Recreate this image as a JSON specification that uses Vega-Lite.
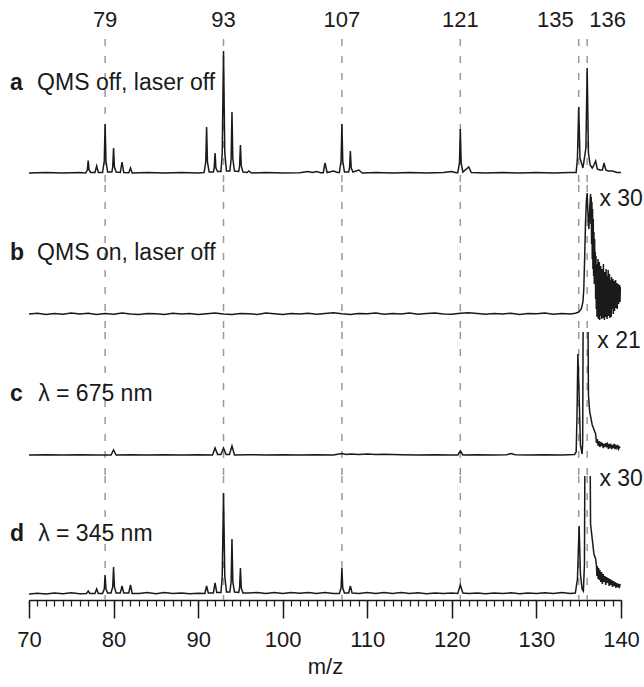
{
"$schema":"https://vega.github.io/schema/vega-lite/v6.json",
"padding":{"left":10,"top":1,"right":0,"bottom":0},
"config":{"view":{"stroke":null},"font":"Liberation Sans","text":{"font":"Liberation Sans","color":"#1a1a1a"}},
"spacing":0,
"bounds":"flush",
"resolve":{"scale":{"x":"independent","y":"independent"}},
"datasets":{
"peaks":[{"mz":79},{"mz":93},{"mz":107},{"mz":121},{"mz":135},{"mz":136}],
"lab":[
{"p":"a","w":"b","mz":67.76,"i":90,"t":"a"},{"p":"a","w":"n","mz":70.96,"i":90,"t":"QMS off, laser off"},
{"p":"b","w":"b","mz":67.76,"i":61,"t":"b"},{"p":"b","w":"n","mz":70.96,"i":61,"t":"QMS on, laser off"},{"p":"b","w":"n","mz":137.45,"i":115,"t":"x 30"},
{"p":"c","w":"b","mz":67.76,"i":61,"t":"c"},{"p":"c","w":"n","mz":71.08,"i":61,"t":"λ = 675 nm"},{"p":"c","w":"n","mz":137.2,"i":114,"t":"x 21"},
{"p":"d","w":"b","mz":67.76,"i":60,"t":"d"},{"p":"d","w":"n","mz":71.08,"i":60,"t":"λ = 345 nm"},{"p":"d","w":"n","mz":137.45,"i":115,"t":"x 30"}
],
"spec":[
{"p":"a","mz":70,"i":0},{"p":"a","mz":72,"i":0.5},{"p":"a","mz":74,"i":0},{"p":"a","mz":76,"i":0.5},{"p":"a","mz":76.7,"i":0},{"p":"a","mz":76.9,"i":3},{"p":"a","mz":77,"i":12.5},{"p":"a","mz":77.1,"i":3},{"p":"a","mz":77.3,"i":0.5},{"p":"a","mz":77.8,"i":0.5},{"p":"a","mz":78,"i":7},{"p":"a","mz":78.2,"i":0.5},{"p":"a","mz":78.7,"i":0.5},{"p":"a","mz":78.9,"i":12},{"p":"a","mz":79,"i":49},{"p":"a","mz":79.1,"i":12},{"p":"a","mz":79.3,"i":1},{"p":"a","mz":79.8,"i":1},{"p":"a","mz":79.9,"i":6},{"p":"a","mz":80,"i":25},{"p":"a","mz":80.1,"i":6},{"p":"a","mz":80.3,"i":1},{"p":"a","mz":80.8,"i":0.5},{"p":"a","mz":81,"i":11},{"p":"a","mz":81.2,"i":0.5},{"p":"a","mz":81.8,"i":0.3},{"p":"a","mz":82,"i":5},{"p":"a","mz":82.2,"i":0},{"p":"a","mz":84,"i":0.5},{"p":"a","mz":86,"i":0},{"p":"a","mz":88,"i":0.5},{"p":"a","mz":90,"i":0},{"p":"a","mz":90.7,"i":0.5},{"p":"a","mz":90.9,"i":11},{"p":"a","mz":91,"i":46},{"p":"a","mz":91.1,"i":11},{"p":"a","mz":91.3,"i":1},{"p":"a","mz":91.8,"i":1},{"p":"a","mz":91.9,"i":5},{"p":"a","mz":92,"i":20},{"p":"a","mz":92.1,"i":5},{"p":"a","mz":92.3,"i":1.5},{"p":"a","mz":92.7,"i":1.5},{"p":"a","mz":92.85,"i":20},{"p":"a","mz":93,"i":122},{"p":"a","mz":93.15,"i":20},{"p":"a","mz":93.35,"i":2},{"p":"a","mz":93.75,"i":2},{"p":"a","mz":93.9,"i":14},{"p":"a","mz":94,"i":61},{"p":"a","mz":94.1,"i":14},{"p":"a","mz":94.3,"i":2},{"p":"a","mz":94.8,"i":1.5},{"p":"a","mz":94.9,"i":7},{"p":"a","mz":95,"i":28},{"p":"a","mz":95.1,"i":7},{"p":"a","mz":95.3,"i":1},{"p":"a","mz":95.8,"i":0.5},{"p":"a","mz":96,"i":2},{"p":"a","mz":96.3,"i":0},{"p":"a","mz":98,"i":0.5},{"p":"a","mz":100,"i":0},{"p":"a","mz":102,"i":0.3},{"p":"a","mz":103,"i":1.5},{"p":"a","mz":103.5,"i":0.5},{"p":"a","mz":104,"i":1.5},{"p":"a","mz":104.5,"i":0.3},{"p":"a","mz":104.8,"i":0.3},{"p":"a","mz":105,"i":10},{"p":"a","mz":105.25,"i":0.5},{"p":"a","mz":106,"i":2},{"p":"a","mz":106.5,"i":0.5},{"p":"a","mz":106.7,"i":0.5},{"p":"a","mz":106.9,"i":12},{"p":"a","mz":107,"i":49},{"p":"a","mz":107.1,"i":12},{"p":"a","mz":107.3,"i":1},{"p":"a","mz":107.8,"i":1},{"p":"a","mz":107.9,"i":5},{"p":"a","mz":108,"i":22},{"p":"a","mz":108.1,"i":5},{"p":"a","mz":108.3,"i":1},{"p":"a","mz":109,"i":3},{"p":"a","mz":109.4,"i":0},{"p":"a","mz":111,"i":0.5},{"p":"a","mz":113,"i":0},{"p":"a","mz":115,"i":0.5},{"p":"a","mz":117,"i":0},{"p":"a","mz":119,"i":0.5},{"p":"a","mz":120,"i":1.5},{"p":"a","mz":120.5,"i":0.3},{"p":"a","mz":120.7,"i":0.3},{"p":"a","mz":120.9,"i":10},{"p":"a","mz":121,"i":44},{"p":"a","mz":121.1,"i":10},{"p":"a","mz":121.3,"i":1},{"p":"a","mz":122,"i":6},{"p":"a","mz":122.3,"i":0.5},{"p":"a","mz":124,"i":0},{"p":"a","mz":126,"i":0.5},{"p":"a","mz":128,"i":0},{"p":"a","mz":130,"i":0.5},{"p":"a","mz":132,"i":0},{"p":"a","mz":134,"i":0.5},{"p":"a","mz":134.7,"i":0.5},{"p":"a","mz":134.85,"i":15},{"p":"a","mz":135,"i":66},{"p":"a","mz":135.15,"i":15},{"p":"a","mz":135.5,"i":5},{"p":"a","mz":135.85,"i":25},{"p":"a","mz":136,"i":105},{"p":"a","mz":136.15,"i":20},{"p":"a","mz":136.35,"i":8},{"p":"a","mz":136.6,"i":5},{"p":"a","mz":136.8,"i":8},{"p":"a","mz":137,"i":12},{"p":"a","mz":137.2,"i":4},{"p":"a","mz":137.5,"i":3},{"p":"a","mz":137.8,"i":3},{"p":"a","mz":138,"i":10},{"p":"a","mz":138.2,"i":3},{"p":"a","mz":138.5,"i":2},{"p":"a","mz":139,"i":2},{"p":"a","mz":139.5,"i":0.5},{"p":"a","mz":140,"i":0.5},
{"p":"b","mz":70,"i":0},{"p":"b","mz":71,"i":0.8},{"p":"b","mz":72,"i":-0.5},{"p":"b","mz":73,"i":0.6},{"p":"b","mz":74,"i":-0.3},{"p":"b","mz":75,"i":1},{"p":"b","mz":76,"i":0},{"p":"b","mz":77,"i":0.7},{"p":"b","mz":78,"i":-0.6},{"p":"b","mz":79,"i":0.5},{"p":"b","mz":80,"i":-0.2},{"p":"b","mz":81,"i":0.9},{"p":"b","mz":82,"i":0},{"p":"b","mz":83,"i":-0.5},{"p":"b","mz":84,"i":0.6},{"p":"b","mz":85,"i":0.2},{"p":"b","mz":86,"i":-0.6},{"p":"b","mz":87,"i":0.8},{"p":"b","mz":88,"i":0},{"p":"b","mz":89,"i":0.5},{"p":"b","mz":90,"i":-0.4},{"p":"b","mz":91,"i":0.3},{"p":"b","mz":92,"i":1},{"p":"b","mz":93,"i":0},{"p":"b","mz":94,"i":-0.5},{"p":"b","mz":95,"i":0.6},{"p":"b","mz":96,"i":0.2},{"p":"b","mz":97,"i":-0.4},{"p":"b","mz":98,"i":1},{"p":"b","mz":99,"i":0.3},{"p":"b","mz":100,"i":-0.5},{"p":"b","mz":101,"i":0.6},{"p":"b","mz":102,"i":0.1},{"p":"b","mz":103,"i":0.8},{"p":"b","mz":104,"i":-0.2},{"p":"b","mz":105,"i":0.6},{"p":"b","mz":106,"i":1.2},{"p":"b","mz":107,"i":0.3},{"p":"b","mz":108,"i":-0.4},{"p":"b","mz":109,"i":0.6},{"p":"b","mz":110,"i":0.2},{"p":"b","mz":111,"i":1},{"p":"b","mz":112,"i":-0.3},{"p":"b","mz":113,"i":0.5},{"p":"b","mz":114,"i":0},{"p":"b","mz":115,"i":0.9},{"p":"b","mz":116,"i":-0.2},{"p":"b","mz":117,"i":0.4},{"p":"b","mz":118,"i":1},{"p":"b","mz":119,"i":0},{"p":"b","mz":120,"i":-0.3},{"p":"b","mz":121,"i":0.7},{"p":"b","mz":122,"i":1.2},{"p":"b","mz":123,"i":0.4},{"p":"b","mz":124,"i":-0.3},{"p":"b","mz":125,"i":0.6},{"p":"b","mz":126,"i":0},{"p":"b","mz":127,"i":0.8},{"p":"b","mz":128,"i":-0.4},{"p":"b","mz":129,"i":0.5},{"p":"b","mz":130,"i":0.2},{"p":"b","mz":131,"i":0.9},{"p":"b","mz":132,"i":-0.2},{"p":"b","mz":133,"i":0.4},{"p":"b","mz":134,"i":0.1},{"p":"b","mz":134.6,"i":0.8},{"p":"b","mz":135,"i":2},{"p":"b","mz":135.3,"i":5},{"p":"b","mz":135.5,"i":12},{"p":"b","mz":135.6,"i":25},{"p":"b","mz":135.7,"i":55},{"p":"b","mz":135.8,"i":90},{"p":"b","mz":135.9,"i":112},{"p":"b","mz":136,"i":121},{"p":"b","mz":136.1,"i":98},{"p":"b","mz":136.2,"i":85},{"p":"b","mz":136.3,"i":105},
{"p":"b","mz":136.4,"i":120},{"p":"b","mz":136.44,"i":90},{"p":"b","mz":136.48,"i":117},{"p":"b","mz":136.52,"i":70},{"p":"b","mz":136.56,"i":112},{"p":"b","mz":136.6,"i":55},{"p":"b","mz":136.64,"i":105},{"p":"b","mz":136.68,"i":45},{"p":"b","mz":136.72,"i":95},{"p":"b","mz":136.76,"i":38},{"p":"b","mz":136.8,"i":82},{"p":"b","mz":136.84,"i":30},{"p":"b","mz":136.88,"i":75},{"p":"b","mz":136.92,"i":35},{"p":"b","mz":136.96,"i":62},{"p":"b","mz":137,"i":15},{"p":"b","mz":137.04,"i":58},{"p":"b","mz":137.08,"i":5},{"p":"b","mz":137.12,"i":50},{"p":"b","mz":137.16,"i":-3},{"p":"b","mz":137.2,"i":45},{"p":"b","mz":137.24,"i":10},{"p":"b","mz":137.28,"i":55},{"p":"b","mz":137.32,"i":-5},{"p":"b","mz":137.36,"i":40},{"p":"b","mz":137.4,"i":2},{"p":"b","mz":137.44,"i":52},{"p":"b","mz":137.48,"i":-6},{"p":"b","mz":137.52,"i":35},{"p":"b","mz":137.56,"i":8},{"p":"b","mz":137.6,"i":48},{"p":"b","mz":137.64,"i":-2},{"p":"b","mz":137.68,"i":30},{"p":"b","mz":137.72,"i":-5},{"p":"b","mz":137.76,"i":45},{"p":"b","mz":137.8,"i":5},{"p":"b","mz":137.84,"i":38},{"p":"b","mz":137.88,"i":-4},{"p":"b","mz":137.92,"i":50},{"p":"b","mz":137.96,"i":0},{"p":"b","mz":138,"i":33},{"p":"b","mz":138.04,"i":-6},{"p":"b","mz":138.08,"i":42},{"p":"b","mz":138.12,"i":6},{"p":"b","mz":138.16,"i":36},{"p":"b","mz":138.2,"i":-3},{"p":"b","mz":138.24,"i":45},{"p":"b","mz":138.28,"i":2},{"p":"b","mz":138.32,"i":30},{"p":"b","mz":138.36,"i":-5},{"p":"b","mz":138.4,"i":38},{"p":"b","mz":138.44,"i":10},{"p":"b","mz":138.48,"i":44},{"p":"b","mz":138.52,"i":-2},{"p":"b","mz":138.56,"i":28},{"p":"b","mz":138.6,"i":4},{"p":"b","mz":138.64,"i":40},{"p":"b","mz":138.68,"i":-4},{"p":"b","mz":138.72,"i":34},{"p":"b","mz":138.76,"i":8},{"p":"b","mz":138.8,"i":26},{"p":"b","mz":138.84,"i":-3},{"p":"b","mz":138.88,"i":37},{"p":"b","mz":138.92,"i":5},{"p":"b","mz":138.96,"i":30},{"p":"b","mz":139,"i":12},{"p":"b","mz":139.04,"i":35},{"p":"b","mz":139.08,"i":0},{"p":"b","mz":139.12,"i":28},{"p":"b","mz":139.16,"i":9},{"p":"b","mz":139.2,"i":33},{"p":"b","mz":139.24,"i":3},{"p":"b","mz":139.28,"i":25},{"p":"b","mz":139.32,"i":12},{"p":"b","mz":139.36,"i":34},{"p":"b","mz":139.4,"i":6},{"p":"b","mz":139.44,"i":27},{"p":"b","mz":139.48,"i":14},{"p":"b","mz":139.52,"i":31},{"p":"b","mz":139.56,"i":5},{"p":"b","mz":139.6,"i":24},{"p":"b","mz":139.64,"i":15},{"p":"b","mz":139.68,"i":30},{"p":"b","mz":139.72,"i":10},{"p":"b","mz":139.76,"i":26},{"p":"b","mz":139.8,"i":16},{"p":"b","mz":139.84,"i":29},{"p":"b","mz":139.88,"i":12},{"p":"b","mz":139.92,"i":27},{"p":"b","mz":139.96,"i":20},
{"p":"c","mz":70,"i":0},{"p":"c","mz":72,"i":0.3},{"p":"c","mz":74,"i":0},{"p":"c","mz":76,"i":0.3},{"p":"c","mz":78,"i":0},{"p":"c","mz":79.7,"i":0},{"p":"c","mz":80,"i":5},{"p":"c","mz":80.3,"i":0},{"p":"c","mz":82,"i":0.3},{"p":"c","mz":84,"i":0},{"p":"c","mz":86,"i":0.3},{"p":"c","mz":88,"i":0},{"p":"c","mz":90,"i":0.3},{"p":"c","mz":91.7,"i":0},{"p":"c","mz":92,"i":7},{"p":"c","mz":92.3,"i":0.5},{"p":"c","mz":92.7,"i":0.5},{"p":"c","mz":93,"i":7},{"p":"c","mz":93.3,"i":0.5},{"p":"c","mz":93.7,"i":0.5},{"p":"c","mz":94,"i":9},{"p":"c","mz":94.3,"i":0},{"p":"c","mz":96,"i":0.3},{"p":"c","mz":98,"i":0},{"p":"c","mz":100,"i":0.3},{"p":"c","mz":102,"i":0},{"p":"c","mz":104,"i":0.3},{"p":"c","mz":106,"i":0},{"p":"c","mz":107,"i":1.5},{"p":"c","mz":107.5,"i":0.5},{"p":"c","mz":108,"i":1},{"p":"c","mz":109,"i":0.5},{"p":"c","mz":110,"i":1},{"p":"c","mz":111,"i":0.5},{"p":"c","mz":112,"i":0.8},{"p":"c","mz":114,"i":0.3},{"p":"c","mz":116,"i":0},{"p":"c","mz":118,"i":0.3},{"p":"c","mz":120,"i":0},{"p":"c","mz":120.7,"i":0},{"p":"c","mz":121,"i":4},{"p":"c","mz":121.3,"i":0},{"p":"c","mz":123,"i":0.3},{"p":"c","mz":125,"i":0},{"p":"c","mz":126.5,"i":0.3},{"p":"c","mz":127,"i":1.5},{"p":"c","mz":127.5,"i":0.3},{"p":"c","mz":129,"i":0},{"p":"c","mz":131,"i":0.3},{"p":"c","mz":133,"i":0},{"p":"c","mz":134.5,"i":0.5},{"p":"c","mz":134.7,"i":3},{"p":"c","mz":134.8,"i":40},{"p":"c","mz":134.9,"i":101},{"p":"c","mz":135.05,"i":60},{"p":"c","mz":135.2,"i":10},{"p":"c","mz":135.4,"i":1},{"p":"c","mz":135.47,"i":12},{"p":"c","mz":135.55,"i":200},{"p":"c","mz":136.05,"i":200},{"p":"c","mz":136.15,"i":60},{"p":"c","mz":136.3,"i":43},{"p":"c","mz":136.6,"i":30},{"p":"c","mz":137,"i":21},{"p":"c","mz":137.1,"i":12},{"p":"c","mz":137.2,"i":16},{"p":"c","mz":137.3,"i":9},{"p":"c","mz":137.4,"i":14},{"p":"c","mz":137.5,"i":8},{"p":"c","mz":137.6,"i":13},{"p":"c","mz":137.7,"i":9},{"p":"c","mz":137.8,"i":12},{"p":"c","mz":137.9,"i":7},{"p":"c","mz":138,"i":11},{"p":"c","mz":138.1,"i":8},{"p":"c","mz":138.2,"i":12},{"p":"c","mz":138.3,"i":9},{"p":"c","mz":138.4,"i":11},{"p":"c","mz":138.5,"i":6},{"p":"c","mz":138.6,"i":11},{"p":"c","mz":138.7,"i":8},{"p":"c","mz":138.8,"i":10},{"p":"c","mz":138.9,"i":6},{"p":"c","mz":139,"i":10},{"p":"c","mz":139.1,"i":7},{"p":"c","mz":139.2,"i":11},{"p":"c","mz":139.3,"i":6},{"p":"c","mz":139.4,"i":9},{"p":"c","mz":139.5,"i":7},{"p":"c","mz":139.6,"i":10},{"p":"c","mz":139.7,"i":6},{"p":"c","mz":139.8,"i":8},{"p":"c","mz":139.9,"i":7},
{"p":"d","mz":70,"i":0},{"p":"d","mz":71,"i":0.8},{"p":"d","mz":72,"i":0},{"p":"d","mz":73,"i":1},{"p":"d","mz":74,"i":0.3},{"p":"d","mz":75,"i":1.2},{"p":"d","mz":76,"i":0.3},{"p":"d","mz":76.8,"i":0.5},{"p":"d","mz":77,"i":3},{"p":"d","mz":77.2,"i":0.5},{"p":"d","mz":77.8,"i":0.5},{"p":"d","mz":78,"i":5},{"p":"d","mz":78.2,"i":0.5},{"p":"d","mz":78.7,"i":0.5},{"p":"d","mz":78.9,"i":5},{"p":"d","mz":79,"i":19},{"p":"d","mz":79.1,"i":5},{"p":"d","mz":79.3,"i":1},{"p":"d","mz":79.7,"i":1},{"p":"d","mz":79.9,"i":7},{"p":"d","mz":80,"i":27},{"p":"d","mz":80.1,"i":7},{"p":"d","mz":80.3,"i":1},{"p":"d","mz":80.8,"i":1},{"p":"d","mz":81,"i":8},{"p":"d","mz":81.2,"i":1},{"p":"d","mz":81.8,"i":1},{"p":"d","mz":82,"i":9},{"p":"d","mz":82.2,"i":0.5},{"p":"d","mz":83,"i":0.5},{"p":"d","mz":84,"i":1.5},{"p":"d","mz":85,"i":0.3},{"p":"d","mz":86,"i":1.5},{"p":"d","mz":87,"i":0.5},{"p":"d","mz":88,"i":1},{"p":"d","mz":89,"i":0.3},{"p":"d","mz":90,"i":0.8},{"p":"d","mz":90.8,"i":0.5},{"p":"d","mz":91,"i":8},{"p":"d","mz":91.2,"i":1},{"p":"d","mz":91.8,"i":1},{"p":"d","mz":92,"i":11},{"p":"d","mz":92.2,"i":1.5},{"p":"d","mz":92.7,"i":1.5},{"p":"d","mz":92.85,"i":18},{"p":"d","mz":93,"i":101},{"p":"d","mz":93.15,"i":18},{"p":"d","mz":93.35,"i":2},{"p":"d","mz":93.75,"i":2},{"p":"d","mz":93.9,"i":12},{"p":"d","mz":94,"i":55},{"p":"d","mz":94.1,"i":12},{"p":"d","mz":94.3,"i":2},{"p":"d","mz":94.8,"i":1.5},{"p":"d","mz":94.9,"i":6},{"p":"d","mz":95,"i":26},{"p":"d","mz":95.1,"i":6},{"p":"d","mz":95.3,"i":1},{"p":"d","mz":96,"i":1},{"p":"d","mz":97,"i":1.5},{"p":"d","mz":98,"i":0.5},{"p":"d","mz":99,"i":1.5},{"p":"d","mz":100,"i":0.5},{"p":"d","mz":101,"i":1.5},{"p":"d","mz":102,"i":0.8},{"p":"d","mz":103,"i":1.5},{"p":"d","mz":104,"i":0.5},{"p":"d","mz":105,"i":1.5},{"p":"d","mz":106,"i":0.5},{"p":"d","mz":106.7,"i":0.5},{"p":"d","mz":106.9,"i":6},{"p":"d","mz":107,"i":26},{"p":"d","mz":107.1,"i":6},{"p":"d","mz":107.3,"i":1},{"p":"d","mz":107.8,"i":1},{"p":"d","mz":108,"i":8},{"p":"d","mz":108.2,"i":1},{"p":"d","mz":109,"i":0.5},{"p":"d","mz":110,"i":1.5},{"p":"d","mz":111,"i":0.5},{"p":"d","mz":112,"i":1.5},{"p":"d","mz":113,"i":0.5},{"p":"d","mz":114,"i":1.5},{"p":"d","mz":115,"i":0.5},{"p":"d","mz":116,"i":1.2},{"p":"d","mz":117,"i":0.3},{"p":"d","mz":118,"i":1},{"p":"d","mz":119,"i":0.5},{"p":"d","mz":120,"i":1},{"p":"d","mz":120.7,"i":0.5},{"p":"d","mz":121,"i":9},{"p":"d","mz":121.3,"i":1},{"p":"d","mz":122,"i":0.5},{"p":"d","mz":123,"i":1},{"p":"d","mz":124,"i":0.3},{"p":"d","mz":125,"i":1},{"p":"d","mz":126,"i":0.5},{"p":"d","mz":127,"i":1.2},{"p":"d","mz":128,"i":0.3},{"p":"d","mz":129,"i":1},{"p":"d","mz":130,"i":0.5},{"p":"d","mz":131,"i":1.2},{"p":"d","mz":132,"i":0.5},{"p":"d","mz":133,"i":1.5},{"p":"d","mz":134,"i":0.5},{"p":"d","mz":134.6,"i":1},{"p":"d","mz":134.85,"i":15},{"p":"d","mz":135.05,"i":68},{"p":"d","mz":135.2,"i":20},{"p":"d","mz":135.4,"i":5},{"p":"d","mz":135.55,"i":3},{"p":"d","mz":135.68,"i":30},{"p":"d","mz":135.76,"i":200},{"p":"d","mz":136.31,"i":200},{"p":"d","mz":136.4,"i":70},{"p":"d","mz":136.6,"i":55},{"p":"d","mz":136.8,"i":40},{"p":"d","mz":137,"i":35},{"p":"d","mz":137.1,"i":28},{"p":"d","mz":137.15,"i":18},{"p":"d","mz":137.2,"i":28},{"p":"d","mz":137.3,"i":15},{"p":"d","mz":137.35,"i":26},{"p":"d","mz":137.45,"i":14},{"p":"d","mz":137.5,"i":24},{"p":"d","mz":137.6,"i":12},{"p":"d","mz":137.7,"i":22},{"p":"d","mz":137.8,"i":10},{"p":"d","mz":137.9,"i":20},{"p":"d","mz":138,"i":12},{"p":"d","mz":138.1,"i":18},{"p":"d","mz":138.2,"i":9},{"p":"d","mz":138.3,"i":17},{"p":"d","mz":138.4,"i":11},{"p":"d","mz":138.5,"i":16},{"p":"d","mz":138.6,"i":8},{"p":"d","mz":138.7,"i":15},{"p":"d","mz":138.8,"i":9},{"p":"d","mz":138.9,"i":14},{"p":"d","mz":139,"i":7},{"p":"d","mz":139.1,"i":13},{"p":"d","mz":139.2,"i":8},{"p":"d","mz":139.3,"i":12},{"p":"d","mz":139.4,"i":6},{"p":"d","mz":139.5,"i":11},{"p":"d","mz":139.6,"i":7},{"p":"d","mz":139.7,"i":10},{"p":"d","mz":139.8,"i":6},{"p":"d","mz":139.9,"i":10}
]},
"vconcat":[
{"width":592,"height":38,"data":{"name":"peaks"},
 "layer":[
  {"transform":[{"filter":"datum.mz < 135"}],"mark":{"type":"text","fontSize":22,"align":"center","baseline":"middle"},
   "encoding":{"x":{"field":"mz","type":"quantitative","scale":{"domain":[70,140],"nice":false,"zero":false},"axis":null},"text":{"field":"mz","type":"quantitative","format":"d"}}},
  {"transform":[{"filter":"datum.mz == 135"}],"mark":{"type":"text","fontSize":22,"align":"right","baseline":"middle","dx":-5},
   "encoding":{"x":{"field":"mz","type":"quantitative","scale":{"domain":[70,140],"nice":false,"zero":false},"axis":null},"text":{"field":"mz","type":"quantitative","format":"d"}}},
  {"transform":[{"filter":"datum.mz == 136"}],"mark":{"type":"text","fontSize":22,"align":"left","baseline":"middle","dx":2},
   "encoding":{"x":{"field":"mz","type":"quantitative","scale":{"domain":[70,140],"nice":false,"zero":false},"axis":null},"text":{"field":"mz","type":"quantitative","format":"d"}}}
 ]},
{"width":592,"height":146,
 "layer":[
  {"data":{"name":"peaks"},"mark":{"type":"rule","color":"#999999","strokeWidth":1.5,"strokeDash":[7,10]},
   "encoding":{"x":{"field":"mz","type":"quantitative","scale":{"domain":[70,140],"nice":false,"zero":false},"axis":null}}},
  {"data":{"name":"spec"},"transform":[{"filter":"datum.p == 'a'"}],"mark":{"type":"line","color":"#1a1a1a","strokeWidth":1.5,"clip":true},
   "encoding":{"x":{"field":"mz","type":"quantitative","scale":{"domain":[70,140],"nice":false,"zero":false},"axis":null},"y":{"field":"i","type":"quantitative","scale":{"domain":[-12,134],"nice":false,"zero":false},"axis":null}}},
  {"data":{"name":"lab"},"transform":[{"filter":"datum.p == 'a' && datum.w == 'b'"}],"mark":{"type":"text","fontSize":23,"fontWeight":"bold","align":"left","baseline":"middle"},
   "encoding":{"x":{"field":"mz","type":"quantitative","scale":{"domain":[70,140],"nice":false,"zero":false},"axis":null},"y":{"field":"i","type":"quantitative","scale":{"domain":[-12,134],"nice":false,"zero":false},"axis":null},"text":{"field":"t"}}},
  {"data":{"name":"lab"},"transform":[{"filter":"datum.p == 'a' && datum.w == 'n'"}],"mark":{"type":"text","fontSize":23,"align":"left","baseline":"middle"},
   "encoding":{"x":{"field":"mz","type":"quantitative","scale":{"domain":[70,140],"nice":false,"zero":false},"axis":null},"y":{"field":"i","type":"quantitative","scale":{"domain":[-12,134],"nice":false,"zero":false},"axis":null},"text":{"field":"t"}}}
 ]},
{"width":592,"height":147,
 "layer":[
  {"data":{"name":"peaks"},"mark":{"type":"rule","color":"#999999","strokeWidth":1.5,"strokeDash":[7,10]},
   "encoding":{"x":{"field":"mz","type":"quantitative","scale":{"domain":[70,140],"nice":false,"zero":false},"axis":null}}},
  {"data":{"name":"spec"},"transform":[{"filter":"datum.p == 'b'"}],"mark":{"type":"line","color":"#1a1a1a","strokeWidth":1.5,"clip":true},
   "encoding":{"x":{"field":"mz","type":"quantitative","scale":{"domain":[70,140],"nice":false,"zero":false},"axis":null},"y":{"field":"i","type":"quantitative","scale":{"domain":[-18,129],"nice":false,"zero":false},"axis":null}}},
  {"data":{"name":"lab"},"transform":[{"filter":"datum.p == 'b' && datum.w == 'b'"}],"mark":{"type":"text","fontSize":23,"fontWeight":"bold","align":"left","baseline":"middle"},
   "encoding":{"x":{"field":"mz","type":"quantitative","scale":{"domain":[70,140],"nice":false,"zero":false},"axis":null},"y":{"field":"i","type":"quantitative","scale":{"domain":[-18,129],"nice":false,"zero":false},"axis":null},"text":{"field":"t"}}},
  {"data":{"name":"lab"},"transform":[{"filter":"datum.p == 'b' && datum.w == 'n'"}],"mark":{"type":"text","fontSize":23,"align":"left","baseline":"middle"},
   "encoding":{"x":{"field":"mz","type":"quantitative","scale":{"domain":[70,140],"nice":false,"zero":false},"axis":null},"y":{"field":"i","type":"quantitative","scale":{"domain":[-18,129],"nice":false,"zero":false},"axis":null},"text":{"field":"t"}}}
 ]},
{"width":592,"height":144,
 "layer":[
  {"data":{"name":"peaks"},"mark":{"type":"rule","color":"#999999","strokeWidth":1.5,"strokeDash":[7,10]},
   "encoding":{"x":{"field":"mz","type":"quantitative","scale":{"domain":[70,140],"nice":false,"zero":false},"axis":null}}},
  {"data":{"name":"spec"},"transform":[{"filter":"datum.p == 'c'"}],"mark":{"type":"line","color":"#1a1a1a","strokeWidth":1.5,"clip":true},
   "encoding":{"x":{"field":"mz","type":"quantitative","scale":{"domain":[70,140],"nice":false,"zero":false},"axis":null},"y":{"field":"i","type":"quantitative","scale":{"domain":[-21,123],"nice":false,"zero":false},"axis":null}}},
  {"data":{"name":"lab"},"transform":[{"filter":"datum.p == 'c' && datum.w == 'b'"}],"mark":{"type":"text","fontSize":23,"fontWeight":"bold","align":"left","baseline":"middle"},
   "encoding":{"x":{"field":"mz","type":"quantitative","scale":{"domain":[70,140],"nice":false,"zero":false},"axis":null},"y":{"field":"i","type":"quantitative","scale":{"domain":[-21,123],"nice":false,"zero":false},"axis":null},"text":{"field":"t"}}},
  {"data":{"name":"lab"},"transform":[{"filter":"datum.p == 'c' && datum.w == 'n'"}],"mark":{"type":"text","fontSize":23,"align":"left","baseline":"middle"},
   "encoding":{"x":{"field":"mz","type":"quantitative","scale":{"domain":[70,140],"nice":false,"zero":false},"axis":null},"y":{"field":"i","type":"quantitative","scale":{"domain":[-21,123],"nice":false,"zero":false},"axis":null},"text":{"field":"t"}}}
 ]},
{"width":592,"height":124,
 "resolve":{"axis":{"x":"independent"}},
 "layer":[
  {"data":{"name":"peaks"},"mark":{"type":"rule","color":"#999999","strokeWidth":1.5,"strokeDash":[7,10]},
   "encoding":{"x":{"field":"mz","type":"quantitative","scale":{"domain":[70,140],"nice":false,"zero":false},
     "axis":{"orient":"bottom","values":[70,71,72,73,74,75,76,77,78,79,80,81,82,83,84,85,86,87,88,89,90,91,92,93,94,95,96,97,98,99,100,101,102,103,104,105,106,107,108,109,110,111,112,113,114,115,116,117,118,119,120,121,122,123,124,125,126,127,128,129,130,131,132,133,134,135,136,137,138,139,140],"tickSize":6,"tickWidth":1.2,"tickColor":"#1a1a1a","labels":false,"domain":false,"grid":false,"title":null}}}},
  {"data":{"name":"spec"},"transform":[{"filter":"datum.p == 'd'"}],"mark":{"type":"line","color":"#1a1a1a","strokeWidth":1.5,"clip":true},
   "encoding":{"x":{"field":"mz","type":"quantitative","scale":{"domain":[70,140],"nice":false,"zero":false},
     "axis":{"orient":"bottom","values":[70,80,90,100,110,120,130,140],"tickSize":18,"tickWidth":1.5,"tickColor":"#1a1a1a","domainColor":"#1a1a1a","domainWidth":1.5,"grid":false,"labelFontSize":22,"labelColor":"#1a1a1a","labelPadding":11,"labelFlush":false,"labelOverlap":false,"title":"m/z","titleFontSize":22,"titleFontWeight":"normal","titleColor":"#1a1a1a","titlePadding":6}},
    "y":{"field":"i","type":"quantitative","scale":{"domain":[-6,118],"nice":false,"zero":false},"axis":null}}},
  {"data":{"name":"lab"},"transform":[{"filter":"datum.p == 'd' && datum.w == 'b'"}],"mark":{"type":"text","fontSize":23,"fontWeight":"bold","align":"left","baseline":"middle"},
   "encoding":{"x":{"field":"mz","type":"quantitative","scale":{"domain":[70,140],"nice":false,"zero":false},"axis":null},"y":{"field":"i","type":"quantitative","scale":{"domain":[-6,118],"nice":false,"zero":false},"axis":null},"text":{"field":"t"}}},
  {"data":{"name":"lab"},"transform":[{"filter":"datum.p == 'd' && datum.w == 'n'"}],"mark":{"type":"text","fontSize":23,"align":"left","baseline":"middle"},
   "encoding":{"x":{"field":"mz","type":"quantitative","scale":{"domain":[70,140],"nice":false,"zero":false},"axis":null},"y":{"field":"i","type":"quantitative","scale":{"domain":[-6,118],"nice":false,"zero":false},"axis":null},"text":{"field":"t"}}}
 ]}
]
}
